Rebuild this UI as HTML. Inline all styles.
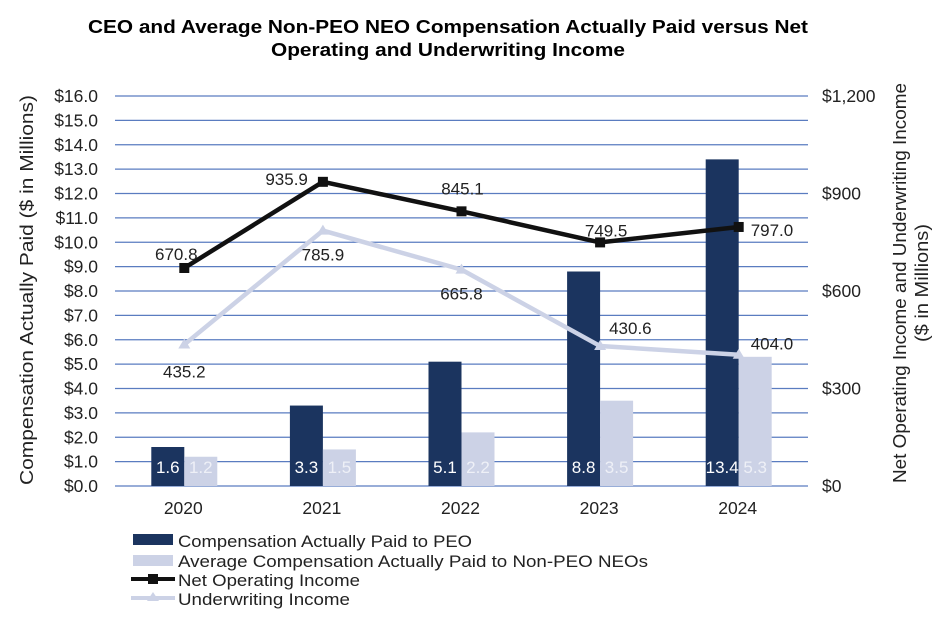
<!DOCTYPE html>
<html><head><meta charset="utf-8"><style>
body{margin:0;background:#fff;width:934px;height:618px;overflow:hidden;font-family:"Liberation Sans",Arial,sans-serif}
svg text{font-family:"Liberation Sans",Arial,sans-serif}
</style></head><body>
<svg width="934" height="618">
<text x="448" y="33" text-anchor="middle" font-size="18" font-weight="bold" textLength="720" lengthAdjust="spacingAndGlyphs">CEO and Average Non-PEO NEO Compensation Actually Paid versus Net</text>
<text x="448" y="56" text-anchor="middle" font-size="18" font-weight="bold" textLength="354" lengthAdjust="spacingAndGlyphs">Operating and Underwriting Income</text>
<g id="grid"></g><g id="bars"></g><g id="lines"></g><g id="axes"></g>
<text transform="translate(33,290) rotate(-90)" text-anchor="middle" font-size="18" fill="#222" textLength="390" lengthAdjust="spacingAndGlyphs">Compensation Actually Paid ($ in Millions)</text>
<text transform="translate(906,283) rotate(-90)" text-anchor="middle" font-size="18" fill="#222" textLength="400" lengthAdjust="spacingAndGlyphs">Net Operating Income and Underwriting Income</text>
<text transform="translate(928,283) rotate(-90)" text-anchor="middle" font-size="18" fill="#222" textLength="118" lengthAdjust="spacingAndGlyphs">($ in Millions)</text>
<g>
<rect x="133" y="534" width="40" height="11" fill="#1b345f"/>
<text x="178" y="547" font-size="17" fill="#222" textLength="294" lengthAdjust="spacingAndGlyphs">Compensation Actually Paid to PEO</text>
<rect x="133" y="555" width="40" height="11" fill="#ccd2e6"/>
<text x="178" y="567" font-size="17" fill="#222" textLength="470" lengthAdjust="spacingAndGlyphs">Average Compensation Actually Paid to Non-PEO NEOs</text>
<line x1="131" y1="579" x2="175" y2="579" stroke="#111" stroke-width="4"/>
<rect x="148" y="574" width="10" height="10" fill="#111"/>
<text x="178" y="586" font-size="17" fill="#222" textLength="182" lengthAdjust="spacingAndGlyphs">Net Operating Income</text>
<line x1="131" y1="598" x2="175" y2="598" stroke="#ccd2e6" stroke-width="4"/>
<polygon points="153,592 159,601 147,601" fill="#ccd2e6"/>
<text x="178" y="605" font-size="17" fill="#222" textLength="172" lengthAdjust="spacingAndGlyphs">Underwriting Income</text>
</g>
</svg>
<script>
const categories=["2020","2021","2022","2023","2024"];
const peo=[1.6,3.3,5.1,8.8,13.4];
const neo=[1.2,1.5,2.2,3.5,5.3];
const netOp=[670.8,935.9,845.1,749.5,797.0];
const uw=[435.2,785.9,665.8,430.6,404.0];
const leftTicks=[0,1,2,3,4,5,6,7,8,9,10,11,12,13,14,15,16];
const rightTicks=[0,300,600,900,1200];
const NS="http://www.w3.org/2000/svg";
const X0=115,X1=808,Y0=486,Y1=96;
const band=(X1-X0)/categories.length;
const xc=i=>X0+band*(i+0.5);
const yL=v=>Y0-(v/16)*(Y0-Y1);
const yR=v=>Y0-(v/1200)*(Y0-Y1);
function mk(tag,attrs,parent,txt){const e=document.createElementNS(NS,tag);for(const k in attrs)e.setAttribute(k,attrs[k]);if(txt!==undefined)e.textContent=txt;document.getElementById(parent).appendChild(e);return e;}
leftTicks.forEach(t=>{
 const l=mk('line',{x1:X0,x2:X1,y1:yL(t),y2:yL(t),stroke:'#5a7cc0','stroke-width':1.2},'grid');
 
 
 const tx=mk('text',{x:98,y:yL(t)+6,'text-anchor':'end','font-size':17.5,fill:'#222'},'axes','$'+t.toFixed(1));
 
 
});
rightTicks.forEach(t=>{
 const tx=mk('text',{x:822,y:yR(t)+6,'font-size':17.5,fill:'#222'},'axes','$'+t.toLocaleString('en-US'));
 
 
});
categories.forEach((c,i)=>{
 const tx=mk('text',{x:xc(i)-1,y:514,'text-anchor':'middle','font-size':17.5,fill:'#222'},'axes',c);
 
 
 const bw=33;
 const b1=mk('rect',{x:xc(i)-bw,y:yL(peo[i]),width:bw,height:Y0-yL(peo[i]),fill:'#1b345f'},'bars');
 
 
 const b2=mk('rect',{x:xc(i),y:yL(neo[i]),width:bw,height:Y0-yL(neo[i]),fill:'#ccd2e6'},'bars');
 
 
 const l1=mk('text',{x:xc(i)-bw/2,y:473,'text-anchor':'middle','font-size':17,fill:'#fff'},'bars',peo[i].toFixed(1));
 
 
 const l2=mk('text',{x:xc(i)+bw/2,y:473,'text-anchor':'middle','font-size':17,fill:'#eef0f7'},'bars',neo[i].toFixed(1));
 
 
});
function series(vals,color,name,marker){
 const p=mk('polyline',{points:vals.map((v,i)=>xc(i)+','+yR(v)).join(' '),fill:'none',stroke:color,'stroke-width':4.5,'stroke-linejoin':'round'},'lines');
 
 
 vals.forEach((v,i)=>{
  let m;
  if(marker==='sq') m=mk('rect',{x:xc(i)-5,y:yR(v)-5,width:10,height:10,fill:color},'lines');
  else m=mk('polygon',{points:`${xc(i)},${yR(v)-6} ${xc(i)+6},${yR(v)+4} ${xc(i)-6},${yR(v)+4}`,fill:color},'lines');
  
  
 });
}
series(uw,'#ccd2e6','underwriting','tri');
series(netOp,'#111','net-operating','sq');
const netOff=[[-8,-8,'middle'],[-15,3,'end'],[1,-17,'middle'],[6,-6,'middle'],[12,9,'start']];
const uwOff=[[0,33,'middle'],[0,30,'middle'],[0,30,'middle'],[9,-12,'start'],[12,-5,'start']];
netOp.forEach((v,i)=>{
 const t=mk('text',{x:xc(i)+netOff[i][0],y:yR(v)+netOff[i][1],'text-anchor':netOff[i][2],'font-size':17,fill:'#222'},'lines',v.toFixed(1));
 
 
});
uw.forEach((v,i)=>{
 const t=mk('text',{x:xc(i)+uwOff[i][0],y:yR(v)+uwOff[i][1],'text-anchor':uwOff[i][2],'font-size':17,fill:'#222'},'lines',v.toFixed(1));
 
 
});
</script>
</body></html>
